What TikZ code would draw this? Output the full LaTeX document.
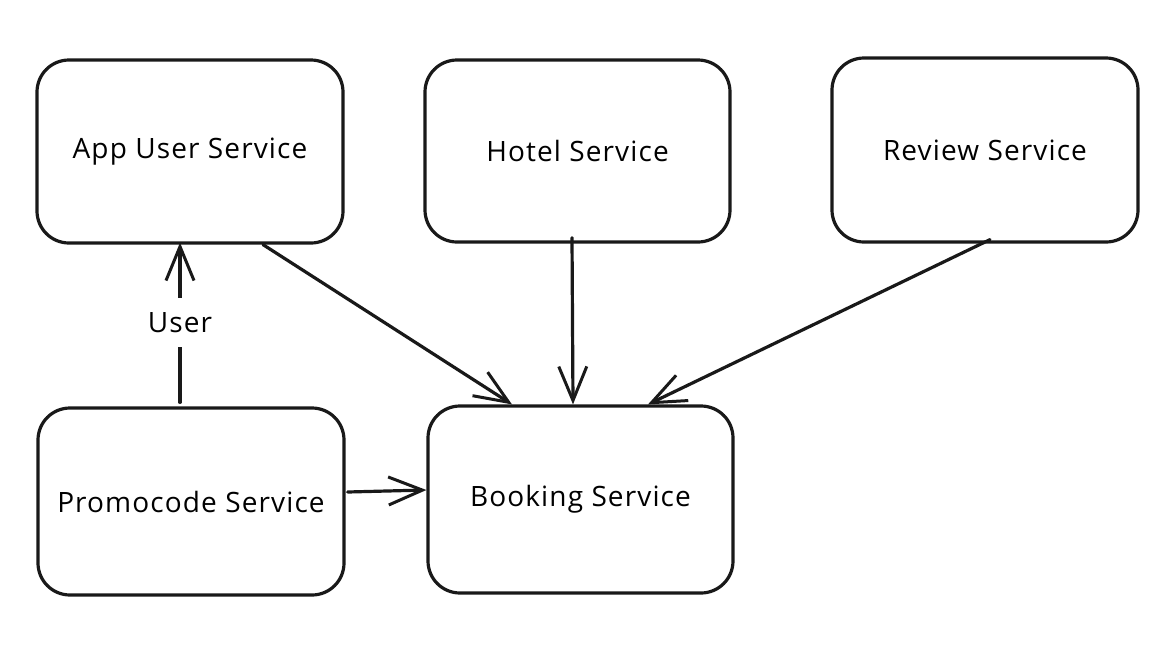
\documentclass[tikz,border=0pt]{standalone}
\usepackage{fontspec}
\setmainfont{Open Sans}[LetterSpace=4]
\usetikzlibrary{arrows.meta,calc}
\begin{document}
\begin{tikzpicture}[x=1pt,y=-1pt,
  svc/.style={draw=black!90, line width=3.2pt, rounded corners=32pt, fill=white,
    minimum width=#1, font=\fontsize{28}{32}\selectfont, inner sep=0pt},
  svc/.default=306pt,
  arr/.style={draw=black!90, line width=3.2pt, line cap=round,
    -{Straight Barb[length=34pt,width=28pt,line width=3pt]}},
  lbl/.style={fill=white, font=\fontsize{28}{32}\selectfont, inner xsep=4pt, inner ysep=14pt}]
\useasboundingbox (0,0) rectangle (1165,646);
\node[svc, minimum height=183pt] (A) at (190,151.5) {App User Service};
\node[svc=305pt, minimum height=182pt] (H) at (577.5,151) {Hotel Service};
\node[svc, minimum height=184pt] (R) at (985,150) {Review Service};
\node[svc, minimum height=187pt] (P) at (191,501.5) {Promocode Service};
\node[svc=305pt, minimum height=187pt] (B) at (580.5,499.5) {Booking Service};
\draw[arr] ($(A.south)+(73,0)$) -- ($(B.north)+(-68.5,0)$);
\draw[arr] ($(H.south)+(-5.5,-6)$) -- ($(B.north)+(-7.5,0)$);
\draw[arr] ($(R.south)+(5,-4)$) -- ($(B.north)+(67.5,0)$);
\draw[arr] ($(P.east)+(2,-9.5)$) -- ($(B.west)+(0,-9.5)$);
\draw[arr] ($(P.north)+(-11,-4)$) -- node[lbl] (U) {User} ($(A.south)+(-10,-2)$);
\end{tikzpicture}
\end{document}
